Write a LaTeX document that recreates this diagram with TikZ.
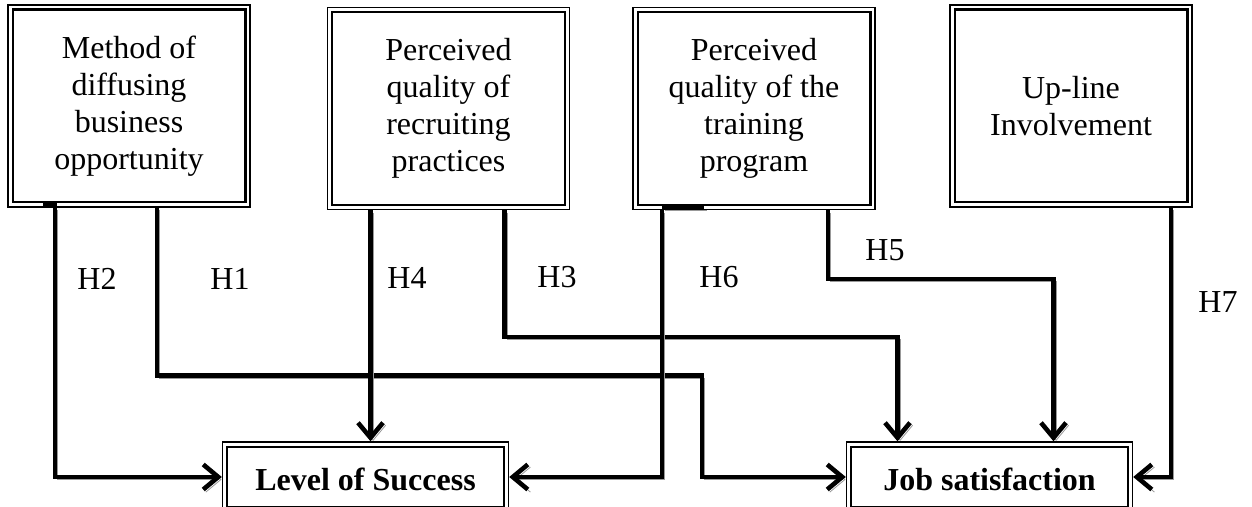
\documentclass[tikz,border=0pt]{standalone}
\usepackage{fontspec}
\setmainfont{Liberation Serif}
\usepackage{tikz}
\usetikzlibrary{arrows.meta}

\begin{document}
\begin{tikzpicture}[x=0.5pt,y=-0.5pt]
\tikzstyle{every node}=[font=\fontsize{16}{18.5}\selectfont]
\tikzstyle{factor}=[draw, line width=0.7pt, minimum width=121pt, minimum height=101pt, inner sep=0pt, align=center, execute at begin node={\rule{0pt}{17pt}}]
\tikzstyle{outcome}=[draw, line width=0.7pt, minimum width=143pt, minimum height=35pt, inner sep=0pt, text height=13pt, text depth=0pt, font=\fontsize{16}{18.5}\selectfont\bfseries]
\tikzstyle{hyp}=[text height=11pt, text depth=0pt, inner sep=0pt]
\tikzstyle{link}=[line width=2.3pt, preaction={draw=black!40, transform canvas={shift={(1.3pt,-1.3pt)}}}]
\tikzstyle{tip}=[-{Straight Barb[length=7.5pt,width=12.5pt]}]
\useasboundingbox (0,0) rectangle (1252,507);

% factors
\node [factor] (meth) at (129,106) {Method of\\diffusing\\business\\opportunity};
\node [factor] (rec) at (448.5,108.5) {Perceived\\quality of\\recruiting\\practices};
\node [factor] (trn) at (754,108.5) {Perceived\\quality of the\\training\\program};
\node [factor] (upl) at (1071,106) {Up-line\\Involvement};

% outcomes
\node [outcome] (succ) at (365.5,477) {Level of Success};
\node [outcome] (job) at (989.5,477) {Job satisfaction};

% inner frames
\foreach \n in {meth,rec,trn,upl,succ,job}
  \draw [line width=1.2pt] ([shift={(2.7pt,-2.7pt)}]\n.north west) rectangle ([shift={(-2.7pt,2.7pt)}]\n.south east);

% stubs on the frames
\draw [line width=2.2pt] ([xshift=-43pt,yshift=1pt]meth.south) -- ([xshift=-36pt,yshift=1pt]meth.south);
\draw [link] ([xshift=-46pt,yshift=1pt]trn.south) -- ([xshift=-25pt,yshift=1pt]trn.south);

% hypotheses
\draw [link,tip] ([xshift=-37pt]meth.south) |- (succ.west);
\draw [link,tip] ([xshift=14pt]meth.south) -- ++(0,168) -| (702,420) |- (job.west);
\draw [link,tip] ([xshift=-39pt]rec.south) -- ([xshift=-39pt]rec.south |- succ.north);
\draw [link,tip] ([xshift=28pt]rec.south) -- ++(0,127) -| ([xshift=-46pt]job.north);
\draw [link,tip] ([xshift=-46pt]trn.south) |- (succ.east);
\draw [link,tip] ([xshift=37pt]trn.south) -- ++(0,69) -| ([xshift=32pt]job.north);
\draw [link,tip] ([xshift=50pt]upl.south) |- (job.east);

\node [hyp] (h2) at (97,279) {H2};
\node [hyp] (h1) at (230,279) {H1};
\node [hyp] (h4) at (407,278) {H4};
\node [hyp] (h3) at (557,277) {H3};
\node [hyp] (h6) at (719,277) {H6};
\node [hyp] (h5) at (885,250) {H5};
\node [hyp] (h7) at (1218,302) {H7};
\end{tikzpicture}
\end{document}
